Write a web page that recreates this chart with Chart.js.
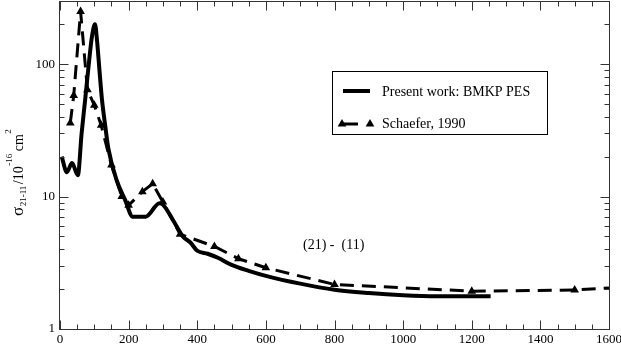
<!DOCTYPE html>
<html><head><meta charset="utf-8">
<script src="https://cdn.jsdelivr.net/npm/chart.js@4"></script>
<style>html,body{margin:0;padding:0;background:#fff;}#wrap{width:621px;height:345px;position:relative;}</style>
</head><body><div id="wrap"><canvas id="c" width="621" height="345"></canvas></div>
<script>
// ---- data ----
const presentX = [5, 20, 35, 52, 63, 73, 83, 93, 102, 108, 115, 122, 132, 141, 165, 190, 212, 250, 290, 300, 330, 358, 380, 400, 430, 460, 500, 550, 600, 700, 800, 900, 1000, 1100, 1200, 1255];
const presentY = [20, 15.3, 17.9, 14.5, 30, 53, 95, 161, 200, 150, 90, 55, 34, 23, 13.3, 9.4, 7.05, 7.05, 8.9, 8.7, 6.6, 5.0, 4.5, 3.9, 3.7, 3.45, 3.05, 2.75, 2.52, 2.2, 1.98, 1.87, 1.8, 1.77, 1.77, 1.77];
const schaeferX = [30, 40, 60, 80, 100, 120, 150, 180, 200, 240, 270, 300, 350, 450, 520, 600, 800, 1200, 1500, 1600];
const schaeferY = [36, 58, 250, 64, 49, 34.5, 17.3, 10, 8.6, 10.9, 12.5, 9.1, 5.2, 4.2, 3.4, 2.9, 2.17, 1.93, 1.97, 2.04];
const xTickLabels = [0, 200, 400, 600, 800, 1000, 1200, 1400, 1600];
const yTickLabels = [1, 10, 100];
const seriesLabels = ['Present work: BMKP PES', 'Schaefer, 1990'];
const annotationText = '(21) -  (11)';

const X_MIN = 0, X_MAX = 1600, X_MINOR = 50;
const Y_MIN = 1, Y_MAX = 300;
const SERIF = '"Liberation Serif", "DejaVu Serif", serif';

function toPoints(xs, ys) { return xs.map((x, i) => ({x: x, y: ys[i]})); }
function yTickValues() {
  const v = [];
  for (let d = 1; d <= Y_MAX; d *= 10)
    for (let m = 1; m <= 9; m++) { const t = m * d; if (t >= Y_MIN && t <= Y_MAX) v.push(t); }
  return v;
}
function xTickValues() {
  const v = [];
  for (let t = X_MIN; t <= X_MAX; t += X_MINOR) v.push(t);
  return v;
}
function tri(ctx, x, y, r) {
  ctx.beginPath();
  ctx.moveTo(x, y - r);
  ctx.lineTo(x + r * Math.sin(Math.PI / 3), y + r / 2);
  ctx.lineTo(x - r * Math.sin(Math.PI / 3), y + r / 2);
  ctx.closePath();
  ctx.fill();
}

const decor = {
  id: 'decor',
  afterDraw(chart) {
    const ctx = chart.ctx;
    const a = chart.chartArea;
    const xs = chart.scales.x, ys = chart.scales.y;
    ctx.save();
    // frame
    ctx.strokeStyle = '#333';
    ctx.lineWidth = 1;
    const L = Math.round(a.left) - 0.5, R = Math.round(a.right) + 0.5;
    const T = Math.round(a.top) + 0.5, B = Math.round(a.bottom) + 0.5;
    ctx.strokeRect(L, T, R - L, B - T);
    // inward ticks on all four sides
    ctx.beginPath();
    xs.ticks.forEach(t => {
      const p = Math.round(xs.getPixelForValue(t.value)) + 0.5;
      const len = (t.value % 200 === 0) ? 9 : 5;
      ctx.moveTo(p, B); ctx.lineTo(p, B - len);
      ctx.moveTo(p, T); ctx.lineTo(p, T + len);
    });
    ys.ticks.forEach(t => {
      const p = Math.round(ys.getPixelForValue(t.value)) + 0.5;
      const lg = Math.log10(t.value);
      const len = Math.abs(lg - Math.round(lg)) < 1e-9 ? 9 : 5;
      ctx.moveTo(L, p); ctx.lineTo(L + len, p);
      ctx.moveTo(R, p); ctx.lineTo(R - len, p);
    });
    ctx.stroke();

    // legend box
    ctx.fillStyle = '#fff';
    ctx.fillRect(332, 71, 215, 63);
    ctx.strokeStyle = '#000';
    ctx.strokeRect(332.5, 71.5, 215, 63);
    ctx.lineWidth = 4;
    ctx.beginPath(); ctx.moveTo(343, 91); ctx.lineTo(370, 91); ctx.stroke();
    ctx.lineWidth = 3;
    ctx.beginPath(); ctx.moveTo(342, 124); ctx.lineTo(358, 124); ctx.stroke();
    ctx.fillStyle = '#000';
    tri(ctx, 342, 124, 5); tri(ctx, 370, 124, 5);
    ctx.font = '14px ' + SERIF;
    ctx.textBaseline = 'middle';
    ctx.textAlign = 'left';
    ctx.fillText(seriesLabels[0], 382, 92);
    ctx.fillText(seriesLabels[1], 382, 124);

    // annotation
    ctx.fillText(annotationText, 303, 245);

    // y axis title (rotated, with sub/superscripts)
    ctx.translate(23, 216);
    ctx.rotate(-Math.PI / 2);
    ctx.textBaseline = 'alphabetic';
    let u = 0;
    const part = (txt, size, v, gapAfter) => {
      ctx.font = size + 'px ' + SERIF;
      ctx.fillText(txt, u, v);
      u += ctx.measureText(txt).width + gapAfter;
    };
    part('\u03c3', 17, 0, 0.5);
    part('21-11', 9, 2.5, 1.5);
    part('/10', 14, 0, 0.5);
    part('-16', 9, -11, 2.5);
    part('cm', 14, 0, 0.5);
    part('2', 9, -12, 0);
    ctx.restore();
  }
};

new Chart(document.getElementById('c'), {
  type: 'line',
  data: {
    datasets: [
      { label: seriesLabels[0], data: toPoints(presentX, presentY), borderColor: '#000', borderWidth: 4, pointRadius: 0, fill: false, cubicInterpolationMode: 'monotone' },
      { label: seriesLabels[1], data: toPoints(schaeferX, schaeferY), borderColor: '#000', backgroundColor: '#000', borderWidth: 3, borderDash: [14, 8], tension: 0, pointStyle: 'triangle',
        pointRadius: ctx => ctx.dataIndex === schaeferX.length - 1 ? 0 : 5, pointBorderWidth: 0, pointBackgroundColor: '#000', fill: false }
    ]
  },
  options: {
    responsive: false, animation: false, devicePixelRatio: 1, clip: 8,
    layout: { autoPadding: false, padding: { top: 1, right: 12, left: 0, bottom: 0 } },
    plugins: { legend: { display: false }, tooltip: { enabled: false } },
    scales: {
      x: {
        type: 'linear', min: X_MIN, max: X_MAX,
        afterBuildTicks: s => { s.ticks = xTickValues().map(v => ({value: v})); },
        afterFit: s => { s.height = 16; s.paddingLeft = 0; s.paddingRight = 0; },
        grid: { display: false, drawTicks: false }, border: { display: false },
        ticks: { autoSkip: false, maxRotation: 0, padding: 3, color: '#000', font: { family: SERIF, size: 13 },
          callback: v => xTickLabels.includes(v) ? String(v) : '' }
      },
      y: {
        type: 'logarithmic', min: Y_MIN, max: Y_MAX,
        afterBuildTicks: s => { s.ticks = yTickValues().map(v => ({value: v})); },
        afterFit: s => { s.width = 60; s.paddingTop = 0; s.paddingBottom = 0; },
        grid: { display: false, drawTicks: false }, border: { display: false },
        ticks: { autoSkip: false, padding: 5, color: '#000', font: { family: SERIF, size: 13 },
          callback: v => yTickLabels.includes(v) ? String(v) : '' }
      }
    }
  },
  plugins: [decor]
});
</script>
</body></html>
